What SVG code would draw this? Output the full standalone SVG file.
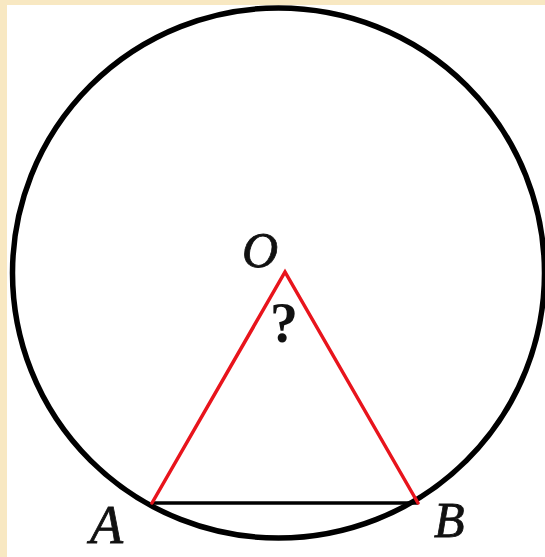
<svg xmlns="http://www.w3.org/2000/svg" width="545" height="557" viewBox="0 0 545 557">
<style>
.lbl{font-family:"Liberation Serif","Times New Roman",serif;font-style:italic;fill:#111;stroke:#111;stroke-width:0.8}
.red{stroke:#e8141c;stroke-width:3.5;fill:none;stroke-linecap:round;stroke-linejoin:miter}
</style>
<rect x="0" y="0" width="545" height="557" fill="#f8e8c2"/>
<rect x="7" y="5" width="538" height="552" fill="#ffffff"/>
<g id="circle">
<ellipse cx="278.5" cy="273" rx="266" ry="265" fill="none" stroke="#000" stroke-width="5.5"/>
</g>
<g id="connectors">
<line x1="152" y1="503" x2="418" y2="503" stroke="#000" stroke-width="3.5"/>
<polyline class="red" points="152,503 285,272 418,503"/>
</g>
<g id="O"><text class="lbl" x="242" y="267" font-size="50">O</text></g>
<g id="q"><text x="284" y="342" font-family="'Liberation Serif','Times New Roman',serif" font-size="56" font-weight="bold" fill="#111" text-anchor="middle">?</text></g>
<g id="A"><text class="lbl" x="90" y="543" font-size="54">A</text></g>
<g id="B"><text class="lbl" x="434" y="537" font-size="50">B</text></g>
</svg>
